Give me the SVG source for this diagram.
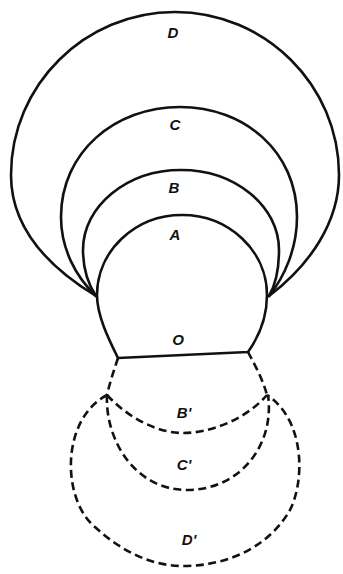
<svg xmlns="http://www.w3.org/2000/svg" width="343" height="574" viewBox="0 0 343 574">
<style>
.s{fill:none;stroke:#111;stroke-width:2.6;stroke-linecap:round;stroke-linejoin:round}
.d{fill:none;stroke:#111;stroke-width:2.6;stroke-dasharray:8 4.5}
.t{font-family:"Liberation Sans",Arial,sans-serif;font-weight:bold;font-style:italic;font-size:15px;fill:#111;text-anchor:middle}
</style>
<rect width="343" height="574" fill="#fff"/>
<g id="connectors">
<path class="d" d="M118 358 C114 370 110 382 107 395"/>
<path class="d" d="M248 352 C255 365 263 380 267 395"/>
</g>
<g id="D"><path class="s" d="M96 296 C40 262 11 222 11 175 C11 85 85 12 175 12 C265 12 339 85 339 175 C339 222 310 265 269 296"/><text class="t" x="173" y="38">D</text></g>
<g id="C"><path class="s" d="M96 296 C75 276 61 248 61 217 C61 152 115 107 180 107 C245 107 297 152 297 217 C297 248 285 276 269 296"/><text class="t" x="175" y="130">C</text></g>
<g id="B"><path class="s" d="M96 296 C88 284 83 268 83 250 C83 206 127 170 181 170 C235 170 279 206 279 250 C279 268 276 284 269 296"/><text class="t" x="174" y="193">B</text></g>
<g id="A"><text class="t" x="175" y="240">A</text></g>
<g id="O"><path class="s" d="M118 358 C108 338 97 315 97 295 C97 251 135 215 182 215 C229 215 267 251 267 295 C267 318 258 338 248 352 L118 358"/><text class="t" x="178" y="345">O</text></g>
<g id="Bp"><path class="d" d="M107 395 C130 420 160 433 183 433 C210 433 245 420 267 395"/><text class="t" x="184" y="418">B'</text></g>
<g id="Cp"><path class="d" d="M107 395 C105 440 135 490 187 490 C240 490 275 445 268 395"/><text class="t" x="184" y="470">C'</text></g>
<g id="Dp"><path class="d" d="M107 395 C60 420 62 500 95 527 C120 550 150 566 183 566 C230 566 270 545 290 510 C305 480 305 420 267 395"/><text class="t" x="189" y="545">D'</text></g>
</svg>
